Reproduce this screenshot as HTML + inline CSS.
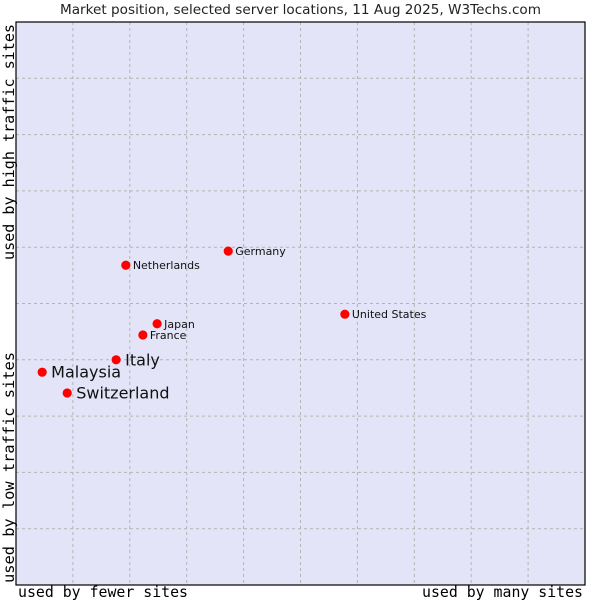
<!DOCTYPE html>
<html><head><meta charset="utf-8"><style>
body{margin:0;background:#fff;}
svg{display:block;font-family:"DejaVu Sans","Liberation Sans",sans-serif;}
</style></head><body>
<svg id="chart" width="600" height="600">
<text x="60" y="14" textLength="481" lengthAdjust="spacingAndGlyphs" font-size="13.5" fill="#222">Market position, selected server locations, 11 Aug 2025, W3Techs.com</text>
<rect x="16" y="22" width="569" height="563" fill="#e3e4f7"/>
<g id="grid"></g>
<rect x="16" y="22" width="569" height="563" fill="none" stroke="#000" stroke-width="1.2"/>
<g id="points"></g>
<text x="18" y="597" textLength="170" lengthAdjust="spacingAndGlyphs" font-family="DejaVu Sans Mono,Liberation Mono,monospace" font-size="15" fill="#000">used by fewer sites</text>
<text x="422" y="597" textLength="161" lengthAdjust="spacingAndGlyphs" font-family="DejaVu Sans Mono,Liberation Mono,monospace" font-size="15" fill="#000">used by many sites</text>
<text transform="translate(14,583) rotate(-90)" textLength="231" lengthAdjust="spacingAndGlyphs" font-family="DejaVu Sans Mono,Liberation Mono,monospace" font-size="15" fill="#000">used by low traffic sites</text>
<text transform="translate(14,260) rotate(-90)" textLength="236" lengthAdjust="spacingAndGlyphs" font-family="DejaVu Sans Mono,Liberation Mono,monospace" font-size="15" fill="#000">used by high traffic sites</text>
</svg>
<script>
const countries=["Malaysia","Switzerland","Italy","France","Japan","Netherlands","Germany","United States"];
const usageX=[0.46,0.90,1.76,2.23,2.48,1.93,3.73,5.78];
const trafficY=[3.78,3.41,4.0,4.44,4.64,5.68,5.93,4.81];
const bigLabel=[true,true,true,false,false,false,false,false];
const NS="http://www.w3.org/2000/svg";
const X0=16,X1=585,Y0=585,Y1=22;
function sx(v){return X0+v*(X1-X0)/10;}
function sy(v){return Y0-v*(Y0-Y1)/10;}
const grid=document.getElementById('grid');
for(let i=1;i<10;i++){
 const lv=document.createElementNS(NS,'line');
 lv.setAttribute('x1',sx(i));lv.setAttribute('x2',sx(i));lv.setAttribute('y1',Y1);lv.setAttribute('y2',Y0);
 lv.setAttribute('stroke','#b4b4b4');lv.setAttribute('stroke-dasharray','3,3');
 
 
 grid.appendChild(lv);
 const lh=document.createElementNS(NS,'line');
 lh.setAttribute('y1',sy(i));lh.setAttribute('y2',sy(i));lh.setAttribute('x1',X0);lh.setAttribute('x2',X1);
 lh.setAttribute('stroke','#b4b4b4');lh.setAttribute('stroke-dasharray','3,3');
 
 
 grid.appendChild(lh);
}
const pts=document.getElementById('points');
countries.forEach((c,i)=>{
 const x=sx(usageX[i]),y=sy(trafficY[i]);
 const d=document.createElementNS(NS,'circle');
 d.setAttribute('cx',x);d.setAttribute('cy',y);d.setAttribute('r',4.6);
 d.setAttribute('fill','#ff0000');
 
 
 pts.appendChild(d);
 const t=document.createElementNS(NS,'text');
 t.setAttribute('x',x+(bigLabel[i]?9:7));
 t.setAttribute('y',y+(bigLabel[i]?5.5:4));
 t.setAttribute('font-size',bigLabel[i]?16:11);
 t.setAttribute('fill','#111');
 t.textContent=c;
 
 
 pts.appendChild(t);
});
</script>
</body></html>
